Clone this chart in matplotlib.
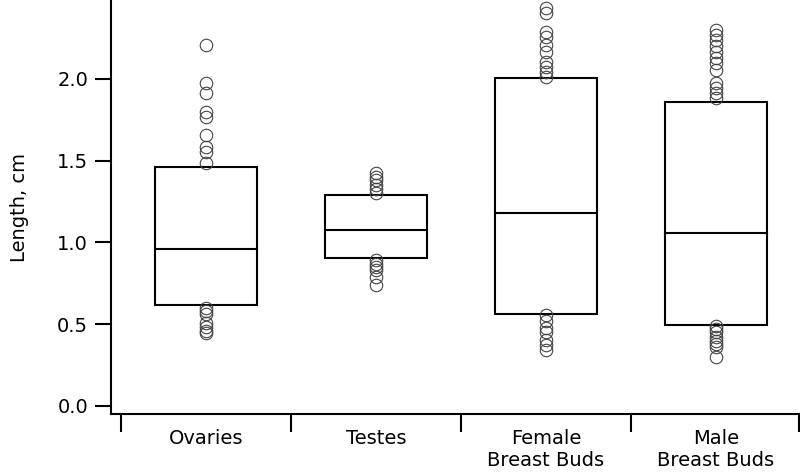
import matplotlib
matplotlib.use("Agg")
import matplotlib.pyplot as plt
from matplotlib.patches import Rectangle

categories = ["Ovaries", "Testes", "Female\nBreast Buds", "Male\nBreast Buds"]
q1 = [0.618, 0.905, 0.560, 0.495]
median = [0.960, 1.076, 1.180, 1.058]
q3 = [1.462, 1.290, 2.006, 1.859]

outliers_ovaries = [2.208, 1.976, 1.914, 1.798, 1.768, 1.657, 1.584, 1.554, 1.486,
                    0.600, 0.580, 0.565, 0.510, 0.485, 0.460, 0.445]
outliers_testes = [1.425, 1.400, 1.380, 1.350, 1.330, 1.305,
                   0.895, 0.870, 0.850, 0.830, 0.790, 0.740]
outliers_female = [2.434, 2.404, 2.287, 2.257, 2.208, 2.165, 2.104, 2.073, 2.043, 2.012,
                   0.556, 0.520, 0.480, 0.450, 0.405, 0.370, 0.340]
outliers_male = [2.300, 2.270, 2.240, 2.200, 2.165, 2.130, 2.100, 2.055,
                 1.976, 1.945, 1.914, 1.884,
                 0.490, 0.470, 0.450, 0.420, 0.400, 0.380, 0.360, 0.300]
outliers = [outliers_ovaries, outliers_testes, outliers_female, outliers_male]

ytick_values = [0.0, 0.5, 1.0, 1.5, 2.0]
ytick_labels = ["0.0", "0.5", "1.0", "1.5", "2.0"]

fig = plt.figure(figsize=(8, 4.72), dpi=100)
ax = fig.add_axes([111/800, 58/472, 688/800, 414/472])

box_w = 0.6
for i in range(len(categories)):
    ax.add_patch(Rectangle((i - box_w/2, q1[i]), box_w, q3[i] - q1[i],
                           facecolor="white", edgecolor="black", lw=1.5, zorder=2))
    ax.plot([i - box_w/2, i + box_w/2], [median[i], median[i]], color="black", lw=1.5, zorder=3)
    ax.plot([i] * len(outliers[i]), outliers[i], "o", mfc="none", mec="#444444",
            mew=0.8, ms=9, zorder=4, clip_on=False)

ax.set_xlim(-0.559, 3.49)
ax.set_ylim(-0.049, 2.483)

ax.spines["top"].set_visible(False)
ax.spines["right"].set_visible(False)
ax.spines["left"].set_linewidth(1.5)
ax.spines["bottom"].set_linewidth(1.5)

ax.set_yticks(ytick_values)
ax.set_yticklabels(ytick_labels)
ax.tick_params(axis="y", direction="out", length=11.5, width=1.5, pad=5, labelsize=14)

ax.set_xticks([-0.5, 0.5, 1.5, 2.5, 3.49])
ax.set_xticklabels([])
ax.tick_params(axis="x", which="major", direction="out", length=13, width=1.5)
ax.set_xticks(range(len(categories)), minor=True)
ax.set_xticklabels(categories, minor=True)
ax.tick_params(axis="x", which="minor", length=0, pad=11, labelsize=14)

ax.set_ylabel("Length, cm", fontsize=14, labelpad=20)

fig.savefig("out.png", dpi=100)
